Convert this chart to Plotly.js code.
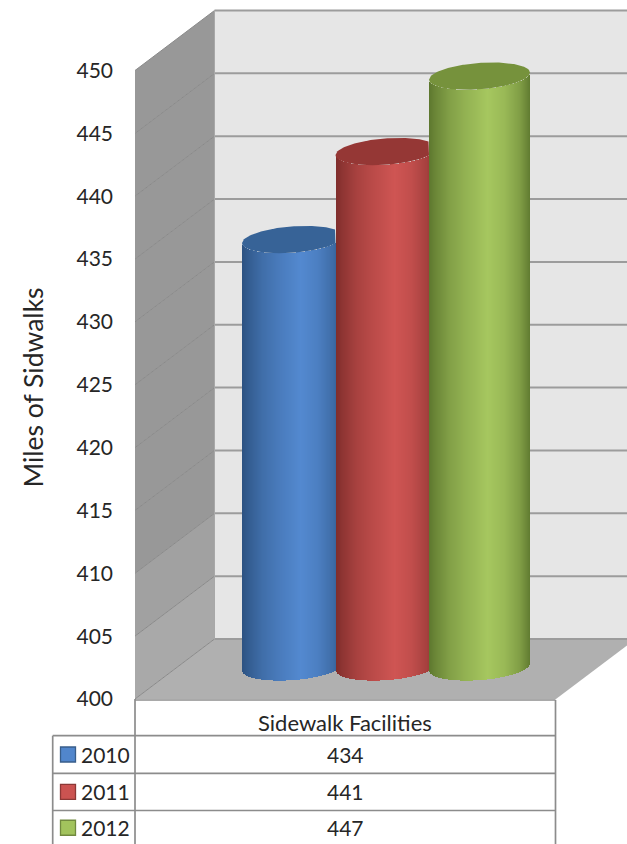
<!DOCTYPE html>
<html>
<head>
<meta charset="utf-8">
<title>Miles of Sidewalks</title>
<script src="https://cdn.plot.ly/plotly-3.0.1.min.js"></script>
<style>html,body{margin:0;padding:0;background:#fff}#chart{width:627px;height:844px}</style>
</head>
<body>
<div id="chart"></div>
<script>
// Chart values
const years = ['2010', '2011', '2012'];
const miles = [434, 441, 447];
const category = 'Sidewalk Facilities';
const axisTicks = [400, 405, 410, 415, 420, 425, 430, 435, 440, 445, 450];
const axisTitle = 'Miles of Sidwalks';

// Series colours: light side, dark side, end cap
const lightShade = ['#5389d0', '#cf5553', '#a6c75f'];
const darkShade = ['#2c5281', '#7f2d2b', '#5d772e'];
const capShade = ['#376397', '#953735', '#76923c'];
const keyBorder = ['#385d8a', '#8c3836', '#71893f'];

// Page and box geometry, in pixels
const W = 627, H = 844;
const front400 = 699, front450 = 70.5;
const S = (front400 - front450) / (axisTicks[axisTicks.length - 1] - axisTicks[0]);
const yv = px => 400 + (front400 - px) / S;   // pixel row to axis value
const boxLeft = 135, boxRight = 556, depthX = 79.5, depthPx = 60;
const depthV = depthPx / S;

// Cylinder geometry
const centers = [292.5, 386, 479.5];
const halfW = 50.5, capPx = 13.2, slope = 0.07, midDepthV = 2.55;
const clipAt = [335.5, 429, 1e9];

function lerpHex(a, b, t) {
  const p = h => [1, 3, 5].map(i => parseInt(h.substr(i, 2), 16));
  const A = p(a), B = p(b);
  return 'rgb(' + A.map((v, i) => Math.round(v + (B[i] - v) * t)).join(',') + ')';
}
// Brightness across the cylinder's face, 0 at the rims
const lightStops = [[0, 0], [0.06, 0.18], [0.2, 0.5], [0.35, 0.72], [0.58, 1], [0.75, 0.82], [0.9, 0.48], [1, 0.05]];
function lightAt(u) {
  for (let i = 1; i < lightStops.length; i++) {
    if (u <= lightStops[i][0]) {
      const [u0, l0] = lightStops[i - 1], [u1, l1] = lightStops[i];
      return l0 + (l1 - l0) * (u - u0) / (u1 - u0);
    }
  }
  return 0;
}
// One edge of the tilted ellipse, as an axis value; sign -1 is the near edge
function rim(level, cx, x, sign) {
  const t = (x - cx) / halfW;
  return level + slope * (x - cx) / S + sign * capPx / S * Math.sqrt(Math.max(0, 1 - t * t));
}

const traces = [];
miles.forEach((value, i) => {
  const cx = centers[i], top = value + midDepthV, floor = 400 + midDepthV;
  const xs = [], tops = [], bases = [], colors = [];
  for (let k = 0; k < halfW * 2; k++) {
    const x = cx - halfW + k + 0.5;
    const base = rim(floor, cx, x, -1);
    xs.push(x);
    bases.push(base);
    tops.push(rim(top, cx, x, -1) - base);
    colors.push(lerpHex(darkShade[i], lightShade[i], lightAt((k + 0.5) / (halfW * 2))));
  }
  traces.push({
    type: 'bar', name: years[i], x: xs, y: tops, base: bases, width: 1.01,
    marker: { color: colors, line: { width: 0 } }, hoverinfo: 'skip', showlegend: false
  });
  // End cap, trimmed where the next cylinder stands in front of it
  const capX = [], capY = [];
  const right = Math.min(cx + halfW, clipAt[i]);
  for (let x = cx - halfW; x <= right; x += 1) { capX.push(x); capY.push(rim(top, cx, x, 1)); }
  for (let x = right; x >= cx - halfW; x -= 1) { capX.push(x); capY.push(rim(top, cx, x, -1)); }
  traces.push({
    type: 'scatter', mode: 'lines', x: capX, y: capY, fill: 'toself', fillcolor: capShade[i],
    line: { width: 0 }, hoverinfo: 'skip', showlegend: false
  });
});

const poly = pts => 'M' + pts.map(p => p[0] + ',' + p[1]).join('L') + 'Z';
const shapes = [];
const backLeft = boxLeft + depthX;

// Back wall, side wall and floor; the side wall lightens near the floor
shapes.push({ type: 'rect', layer: 'below', xref: 'x', yref: 'y', x0: backLeft, x1: W, y0: 400 + depthV, y1: 450 + depthV, fillcolor: '#e6e6e6', line: { width: 0 } });
axisTicks.slice(0, -1).forEach((t, i) => {
  const tt = axisTicks[i + 1], shade = lerpHex('#a9a9a9', '#989898', Math.min(1, i / 2));
  shapes.push({
    type: 'path', layer: 'below', xref: 'x', yref: 'y',
    path: poly([[boxLeft, t], [backLeft, t + depthV], [backLeft, tt + depthV], [boxLeft, tt]]),
    fillcolor: shade, line: { width: 0 }
  });
});
shapes.push({
  type: 'path', layer: 'below', xref: 'x', yref: 'y',
  path: poly([[boxLeft, 400], [backLeft, 400 + depthV], [boxRight + depthX, 400 + depthV], [boxRight, 400]]),
  fillcolor: '#b0b0b0', line: { width: 0 }
});
// Gridlines run along the side wall and across the back wall
axisTicks.forEach(t => {
  shapes.push({ type: 'line', layer: 'below', xref: 'x', yref: 'y', x0: boxLeft, x1: backLeft, y0: t, y1: t + depthV, line: { color: '#8a8a8a', width: 1 } });
  shapes.push({ type: 'line', layer: 'below', xref: 'x', yref: 'y', x0: backLeft, x1: W, y0: t + depthV, y1: t + depthV, line: { color: '#9c9c9c', width: 2 } });
});
shapes.push({ type: 'line', layer: 'below', xref: 'x', yref: 'y', x0: backLeft, x1: backLeft, y0: 400 + depthV, y1: 450 + depthV, line: { color: '#a8a8a8', width: 1 } });

// Data table rules and legend keys
const tableRows = [700, 735.7, 773.3, 810.5];
const tableLeft = boxLeft, tableRight = 555.5, keyLeft = 52.7;
const ruleStyle = { color: '#8c8c8c', width: 1.7 };
const rule = (x0, x1, y0, y1) => shapes.push({ type: 'line', xref: 'x', yref: 'y', x0, x1, y0: yv(y0), y1: yv(y1), line: ruleStyle });
tableRows.forEach((y, i) => rule(i === 0 ? tableLeft : keyLeft, tableRight, y, y));
rule(tableLeft, tableLeft, front400, H);
rule(tableRight, tableRight, tableRows[0], H);
rule(keyLeft, keyLeft, tableRows[1], H);

const annotations = [];
const note = (text, x, y, xanchor, size) => annotations.push({
  text, x, y: yv(y), xref: 'x', yref: 'y', xanchor, yanchor: 'middle', showarrow: false,
  font: { family: 'Lato, sans-serif', size, color: '#262626' }
});
note(category, 345, 722, 'center', 22);
years.forEach((year, i) => {
  const mid = (tableRows[i + 1] + (tableRows[i + 2] || H + 1)) / 2;
  note(String(miles[i]), 345, mid, 'center', 21);
  note(year, 79, mid, 'left', 21);
  shapes.push({
    type: 'rect', xref: 'x', yref: 'y', x0: 60.5, x1: 75.5, y0: yv(mid - 7.5), y1: yv(mid + 7.5),
    fillcolor: lerpHex(darkShade[i], lightShade[i], 0.95), line: { color: keyBorder[i], width: 1.3 }
  });
});
// Axis title sits beside the upper part of the axis
annotations.push({
  text: axisTitle, x: 32, y: yv(387.5), xref: 'x', yref: 'y', xanchor: 'center', yanchor: 'middle',
  textangle: -90, showarrow: false, font: { family: 'Lato, sans-serif', size: 26.5, color: '#262626' }
});

const layout = {
  width: W, height: H, margin: { l: 0, r: 0, t: 0, b: 0, pad: 0 },
  paper_bgcolor: '#fff', plot_bgcolor: 'rgba(0,0,0,0)', barmode: 'overlay', bargap: 0, showlegend: false,
  xaxis: { range: [0, W], visible: false, fixedrange: true },
  yaxis: {
    range: [yv(H), yv(0)], anchor: 'free', position: boxLeft / W, fixedrange: true,
    tickmode: 'array', tickvals: axisTicks, ticktext: axisTicks.map(String), ticks: '',
    ticklabelstandoff: 22, showgrid: false, zeroline: false, showline: false,
    tickfont: { family: 'Lato, sans-serif', size: 21, color: '#262626' }
  },
  shapes, annotations
};

Plotly.newPlot('chart', traces, layout, { displayModeBar: false, staticPlot: true });
</script>
</body>
</html>
